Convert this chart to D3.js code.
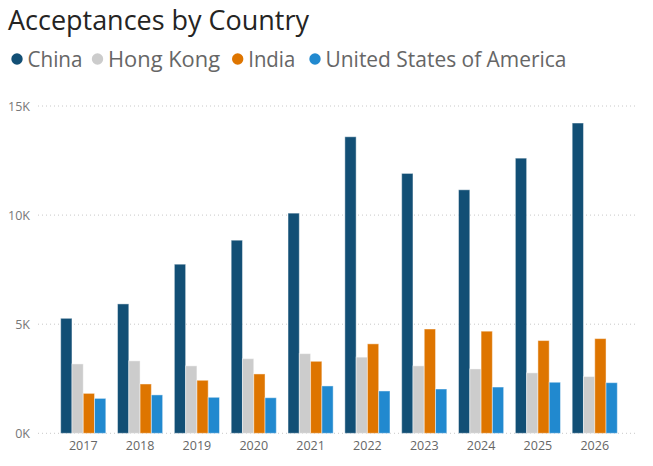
<!DOCTYPE html>
<html>
<head>
<meta charset="utf-8">
<script src="https://cdn.jsdelivr.net/npm/d3@7"></script>
<style>
  body { margin: 0; background: #fff; }
  text { font-family: "Open Sans", "Noto Sans", sans-serif; }
</style>
</head>
<body>
<script>
// data
var years = ["2017", "2018", "2019", "2020", "2021", "2022", "2023", "2024", "2025", "2026"];
var countries = ["China", "Hong Kong", "India", "United States of America"];
var china = [5270, 5930, 7750, 8850, 10090, 13590, 11910, 11160, 12610, 14220];
var hongKong = [3180, 3320, 3090, 3420, 3650, 3490, 3090, 2950, 2770, 2600];
var india = [1830, 2260, 2430, 2720, 3300, 4100, 4780, 4680, 4250, 4340];
var usa = [1600, 1760, 1650, 1630, 2170, 1940, 2030, 2120, 2340, 2320];
var yTicks = [0, 5000, 10000, 15000];

var colors = ["#124F75", "#CCCCCC", "#DE7500", "#2189CF"];
var series = [china, hongKong, india, usa];

var width = 653, height = 466;

var svg = d3.select("body").append("svg")
    .attr("width", width)
    .attr("height", height);

// title (narrow font in the original, so squeeze the glyphs)
svg.append("text")
    .attr("x", 8)
    .attr("y", 30)
    .attr("font-size", 27)
    .attr("fill", "#252423")
    .attr("font-family", "'Noto Sans', sans-serif")
    .attr("textLength", 301)
    .attr("lengthAdjust", "spacingAndGlyphs")
    .text("Acceptances by Country");

// legend
var legendX = [17, 97.5, 237.7, 315];
var legendW = [55, 112, 47, 241];
var legend = svg.selectAll(".legend")
    .data(countries)
    .enter().append("g")
    .attr("transform", (d, i) => "translate(" + legendX[i] + ",59)");
legend.append("circle")
    .attr("r", 5.7)
    .attr("fill", (d, i) => colors[i]);
legend.append("text")
    .attr("x", 10.5)
    .attr("y", 7.7)
    .attr("font-size", 22.5)
    .attr("fill", "#666666")
    .attr("textLength", (d, i) => legendW[i])
    .attr("lengthAdjust", "spacingAndGlyphs")
    .text(d => d);

// scales
var x0 = d3.scaleBand()
    .domain(years)
    .range([55, 623])
    .paddingInner(0.206)
    .paddingOuter(0.1);

var x1 = d3.scaleBand()
    .domain(countries)
    .range([0, x0.bandwidth()]);

var y = d3.scaleLinear()
    .domain([0, 15000])
    .range([433.3, 106]);

// gridlines
svg.append("g").selectAll("line")
    .data(yTicks)
    .enter().append("line")
    .attr("x1", 38)
    .attr("x2", 638)
    .attr("y1", d => y(d))
    .attr("y2", d => y(d))
    .attr("stroke", "#C8C8C8")
    .attr("stroke-width", 1)
    .attr("stroke-dasharray", "1,3");

// y labels
svg.append("g").selectAll("text")
    .data(yTicks)
    .enter().append("text")
    .attr("x", 30)
    .attr("y", d => y(d) + 4.5)
    .attr("text-anchor", "end")
    .attr("font-size", 12.5)
    .attr("fill", "#777777")
    .text(d => (d / 1000) + "K");

// bars
var groups = svg.append("g").selectAll("g")
    .data(years)
    .enter().append("g")
    .attr("transform", d => "translate(" + x0(d) + ",0)");

groups.selectAll("rect")
    .data((d, i) => countries.map((c, j) => ({ c: c, v: series[j][i], col: colors[j] })))
    .enter().append("rect")
    .attr("x", d => x1(d.c))
    .attr("y", d => y(d.v))
    .attr("width", x1.bandwidth())
    .attr("height", d => y(0) - y(d.v))
    .attr("fill", d => d.col)
    .attr("stroke", "rgba(255,255,255,0.45)")
    .attr("stroke-width", 1);

// x axis labels
svg.append("g").selectAll("text")
    .data(years)
    .enter().append("text")
    .attr("x", d => x0(d) + x0.bandwidth() / 2)
    .attr("y", 450)
    .attr("text-anchor", "middle")
    .attr("font-size", 12.5)
    .attr("fill", "#666666")
    .text(d => d);
</script>
</body>
</html>
